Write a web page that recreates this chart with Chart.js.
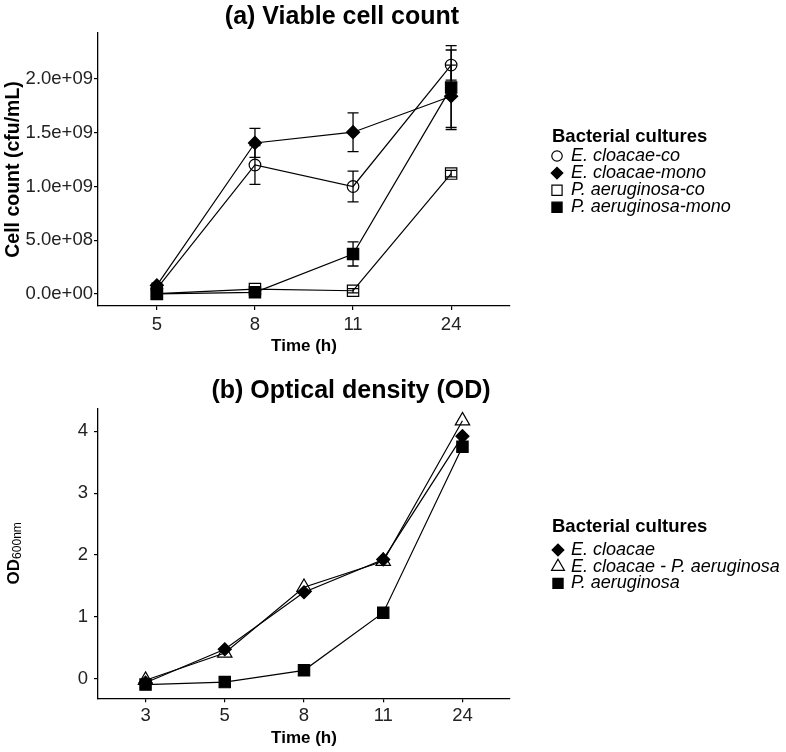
<!DOCTYPE html>
<html>
<head>
<meta charset="utf-8">
<script src="https://cdn.jsdelivr.net/npm/chart.js@4.4.1/dist/chart.umd.min.js"></script>
<style>
  body { margin: 0; background: #fff; }
  canvas { display: block; }
</style>
</head>
<body>
<canvas id="cellChart" width="786" height="376"></canvas>
<canvas id="odChart" width="786" height="376"></canvas>
<script>
// ---- data: (a) viable cell count ----
const timesA = ["5", "8", "11", "24"];
const cloacaeCo = [0.05e9, 1.2e9, 1.0e9, 2.13e9];
const cloacaeCoErr = [0.01e9, 0.18e9, 0.143e9, 0.14e9];
const cloacaeMono = [0.08e9, 1.405e9, 1.505e9, 1.84e9];
const cloacaeMonoErr = [0.02e9, 0.135e9, 0.18e9, 0.29e9];
const aeruginosaCo = [0.003e9, 0.045e9, 0.03e9, 1.12e9];
const aeruginosaCoErr = [0, 0.01e9, 0.02e9, 0.03e9];
const aeruginosaMono = [0.0, 0.015e9, 0.372e9, 1.92e9];
const aeruginosaMonoErr = [0, 0.005e9, 0.112e9, 0.39e9];
const yTicksA = [0, 5e8, 1e9, 1.5e9, 2e9];
const yTickLabelsA = ["0.0e+00", "5.0e+08", "1.0e+09", "1.5e+09", "2.0e+09"];

// ---- data: (b) optical density ----
const timesB = ["3", "5", "8", "11", "24"];
const odCloacae = [-0.06, 0.48, 1.40, 1.93, 3.92];
const odMixed = [-0.02, 0.42, 1.48, 1.90, 4.17];
const odAeruginosa = [-0.09, -0.05, 0.14, 1.07, 3.75];
const yTicksB = [0, 1, 2, 3, 4];

const FONT = "'Liberation Sans', Arial, sans-serif";
Chart.defaults.font.family = FONT;
Chart.defaults.color = "#222";

// turn a value list into {x: index, y: value} points
function toPoints(values) {
  return values.map((v, i) => ({ x: i, y: v }));
}

function series(label, values, errors, style, filled, radius) {
  return {
    label: label,
    data: toPoints(values),
    errors: errors,
    borderColor: "#000",
    borderWidth: 1.2,
    pointStyle: style,
    pointRadius: radius,
    pointBackgroundColor: filled ? "#000" : "rgba(0,0,0,0)",
    pointBorderColor: "#000",
    pointBorderWidth: 1.2,
    fill: false,
    tension: 0,
  };
}

// titles, legend, error bars, subscript axis title
const extras = {
  id: "extras",
  beforeDatasetsDraw(chart) {
    const ctx = chart.ctx;
    const xs = chart.scales.x, ys = chart.scales.y;
    ctx.save();
    ctx.strokeStyle = "#000";
    ctx.lineWidth = 1.3;
    chart.data.datasets.forEach((ds) => {
      if (!ds.errors) return;
      ds.data.forEach((pt, i) => {
        const e = ds.errors[i];
        if (!e) return;
        const x = xs.getPixelForValue(pt.x);
        const yTop = ys.getPixelForValue(pt.y + e);
        const yBot = ys.getPixelForValue(pt.y - e);
        ctx.beginPath();
        ctx.moveTo(x, yTop); ctx.lineTo(x, yBot);
        ctx.moveTo(x - 5.5, yTop); ctx.lineTo(x + 5.5, yTop);
        ctx.moveTo(x - 5.5, yBot); ctx.lineTo(x + 5.5, yBot);
        ctx.stroke();
      });
    });
    ctx.restore();
  },
  afterDraw(chart, args, opts) {
    const ctx = chart.ctx;
    ctx.save();
    ctx.fillStyle = "#000";
    ctx.textBaseline = "middle";

    // main title
    ctx.textAlign = "center";
    ctx.font = "bold 25px " + FONT;
    ctx.fillText(opts.title, opts.titleX, opts.titleY);

    // legend
    const lg = opts.legend;
    ctx.textAlign = "left";
    ctx.font = "bold 18.5px " + FONT;
    ctx.fillText(lg.title, lg.x, lg.titleY);
    chart.data.datasets.forEach((ds, i) => {
      const y = lg.firstY + i * lg.step;
      ctx.fillStyle = ds.pointBackgroundColor;
      ctx.strokeStyle = "#000";
      ctx.lineWidth = 1.2;
      Chart.helpers.drawPoint(ctx, {
        pointStyle: ds.pointStyle,
        radius: ds.pointRadius * 0.9,
        rotation: 0,
        borderWidth: 1.2,
      }, lg.markerX, y);
      ctx.fillStyle = "#000";
      ctx.font = "italic 18px " + FONT;
      ctx.fillText(ds.label, lg.textX, y);
    });

    // y axis title with subscript (only where asked)
    if (opts.yTitleParts) {
      ctx.translate(14, (chart.chartArea.top + chart.chartArea.bottom) / 2);
      ctx.rotate(-Math.PI / 2);
      let total = 0;
      opts.yTitleParts.forEach((p) => {
        ctx.font = p.font + " " + FONT;
        total += ctx.measureText(p.text).width;
      });
      let x = -total / 2;
      opts.yTitleParts.forEach((p) => {
        ctx.font = p.font + " " + FONT;
        ctx.fillText(p.text, x, p.dy);
        x += ctx.measureText(p.text).width;
      });
    }
    ctx.restore();
  },
};

function axisX(labels, tickPad, titlePadBottom, height) {
  return {
    type: "linear",
    min: -0.6,
    max: labels.length - 1 + 0.6,
    afterBuildTicks: (scale) => { scale.ticks = labels.map((t, i) => ({ value: i })); },
    afterFit: (scale) => { scale.height = height; },
    ticks: {
      callback: (value) => labels[value],
      font: { size: 18.5 },
      color: "#222",
      padding: tickPad,
      maxRotation: 0,
    },
    grid: { drawOnChartArea: false, drawTicks: true, tickLength: 4, color: "#000", lineWidth: 1.2 },
    border: { display: true, color: "#000", width: 1.3 },
    title: {
      display: true,
      text: "Time (h)",
      color: "#000",
      font: { size: 17, weight: "bold" },
      padding: { top: 0, bottom: titlePadBottom },
    },
  };
}

function axisY(min, max, tickValues, tickLabels, tickPad, title) {
  return {
    type: "linear",
    min: min,
    max: max,
    afterBuildTicks: (scale) => { scale.ticks = tickValues.map((v) => ({ value: v })); },
    afterFit: (scale) => { scale.width = 98; },
    ticks: {
      callback: (value, index) => tickLabels[index],
      font: { size: 18.5 },
      color: "#222",
      padding: tickPad,
    },
    grid: { drawOnChartArea: false, drawTicks: true, tickLength: 4, color: "#000", lineWidth: 1.2 },
    border: { display: true, color: "#000", width: 1.3 },
    title: {
      display: !!title,
      text: title || "",
      color: "#000",
      font: { size: 19.5, weight: "bold" },
      padding: { top: 2, bottom: 0 },
    },
  };
}

// (a) viable cell count
new Chart(document.getElementById("cellChart").getContext("2d"), {
  type: "line",
  data: {
    datasets: [
      series("E. cloacae-co", cloacaeCo, cloacaeCoErr, "circle", false, 5.8),
      series("E. cloacae-mono", cloacaeMono, cloacaeMonoErr, "rectRot", true, 6.5),
      series("P. aeruginosa-co", aeruginosaCo, aeruginosaCoErr, "rect", false, 8),
      series("P. aeruginosa-mono", aeruginosaMono, aeruginosaMonoErr, "rect", true, 8),
    ],
  },
  options: {
    responsive: false,
    animation: false,
    layout: { padding: { top: 33, right: 276, bottom: 0, left: 0 } },
    scales: {
      x: axisX(timesA, 4, 19.1, 70),
      y: axisY(-0.112e9, 2.428e9, yTicksA, yTickLabelsA, 1, "Cell count (cfu/mL)"),
    },
    plugins: {
      legend: { display: false },
      tooltip: { enabled: false },
      extras: {
        title: "(a) Viable cell count",
        titleX: 342,
        titleY: 17,
        legend: { title: "Bacterial cultures", x: 552, titleY: 137, markerX: 557, textX: 571, firstY: 156, step: 17.1 },
      },
    },
  },
  plugins: [extras],
});

// (b) optical density
new Chart(document.getElementById("odChart").getContext("2d"), {
  type: "line",
  data: {
    datasets: [
      series("E. cloacae", odCloacae, null, "rectRot", true, 6.5),
      series("E. cloacae - P. aeruginosa", odMixed, null, "triangle", false, 8.3),
      series("P. aeruginosa", odAeruginosa, null, "rect", true, 8),
    ],
  },
  options: {
    responsive: false,
    animation: false,
    layout: { padding: { top: 32.3, right: 276, bottom: 0, left: 0 } },
    scales: {
      x: axisX(timesB, 3, 3.8, 53.7),
      y: axisY(-0.312, 4.37, yTicksB, yTicksB.map(String), 6, null),
    },
    plugins: {
      legend: { display: false },
      tooltip: { enabled: false },
      extras: {
        title: "(b) Optical density (OD)",
        titleX: 351,
        titleY: 15,
        legend: { title: "Bacterial cultures", x: 552, titleY: 151, markerX: 558, textX: 571, firstY: 174, step: 16.7 },
        yTitleParts: [
          { text: "OD", font: "bold 17px", dy: 0 },
          { text: "600nm", font: "12px", dy: 4 },
        ],
      },
    },
  },
  plugins: [extras],
});
</script>
</body>
</html>
